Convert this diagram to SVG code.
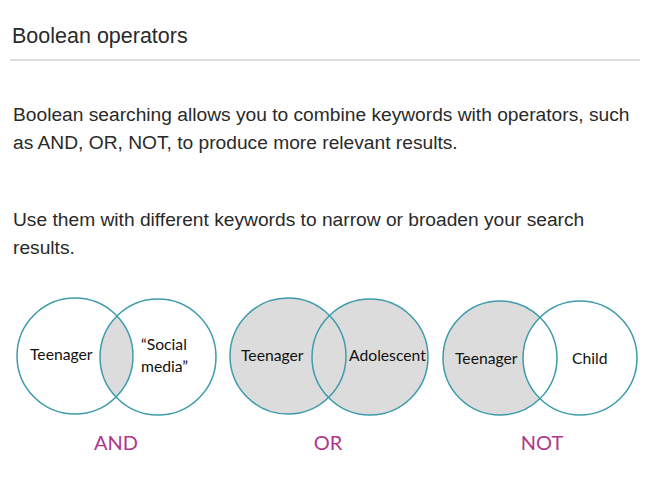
<svg xmlns="http://www.w3.org/2000/svg" width="659" height="477" viewBox="0 0 659 477">
<style>
.h{font-family:"Liberation Sans",Arial,sans-serif;font-size:21.5px;fill:#2a2a2a}
.p{font-family:"Liberation Sans",Arial,sans-serif;font-size:19.2px;fill:#2a2a2a}
.c{fill:none;stroke:#3d9bac;stroke-width:1.5}
.l{font-family:Lato,"Open Sans",sans-serif;font-size:15.7px;fill:#111}
.op{font-family:Lato,"Open Sans",sans-serif;font-size:20px;fill:#b0368c;text-anchor:middle}
.g{fill:#dcdcdc}
</style>
<defs>
<clipPath id="andL"><circle cx="75" cy="356" r="58"/></clipPath>
</defs>
<rect width="659" height="477" fill="#fff"/>
<g id="header">
<text class="h" x="12" y="43">Boolean operators</text>
<line x1="10" y1="60" x2="640" y2="60" stroke="#dcdcdc" stroke-width="2"/>
</g>
<g id="intro">
<text class="p" x="13" y="121">Boolean searching allows you to combine keywords with operators, such</text>
<text class="p" x="13" y="149">as AND, OR, NOT, to produce more relevant results.</text>
<text class="p" x="13" y="226">Use them with different keywords to narrow or broaden your search</text>
<text class="p" x="13" y="254">results.</text>
</g>
<g id="and">
<circle class="g" cx="158" cy="357" r="58" clip-path="url(#andL)"/>
<circle class="c" cx="75" cy="356" r="58"/>
<circle class="c" cx="158" cy="357" r="58"/>
<text class="l" x="30" y="360">Teenager</text>
<text class="l" x="141" y="350">“Social</text>
<text class="l" x="141" y="372">media”</text>
<text class="op" x="116" y="450">AND</text>
</g>
<g id="or">
<circle class="g" cx="288" cy="356" r="58"/>
<circle class="g" cx="370" cy="357" r="58"/>
<circle class="c" cx="288" cy="356" r="58"/>
<circle class="c" cx="370" cy="357" r="58"/>
<text class="l" x="241" y="361">Teenager</text>
<text class="l" x="349" y="361">Adolescent</text>
<text class="op" x="328" y="450">OR</text>
</g>
<g id="not">
<circle class="g" cx="500" cy="358" r="57"/>
<circle fill="#fff" cx="580" cy="358" r="57"/>
<circle class="c" cx="500" cy="358" r="57"/>
<circle class="c" cx="580" cy="358" r="57"/>
<text class="l" x="455" y="364">Teenager</text>
<text class="l" x="572" y="364">Child</text>
<text class="op" x="542" y="450">NOT</text>
</g>
</svg>
